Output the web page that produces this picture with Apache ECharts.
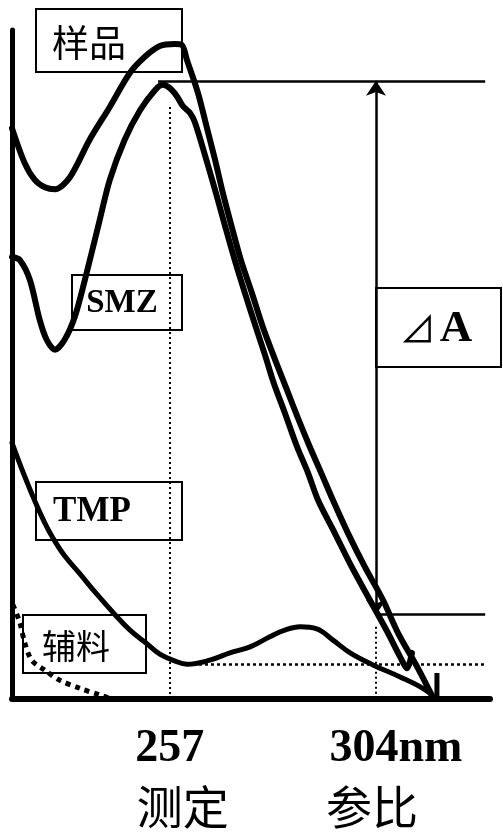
<!DOCTYPE html>
<html><head><meta charset="utf-8">
<script src="https://cdn.jsdelivr.net/npm/echarts@6/dist/echarts.min.js"></script>
<style>html,body{margin:0;padding:0;background:#fff}#c{width:503px;height:832px}</style>
</head><body><div id="c"></div>
<script>
// wavelength (nm) , relative absorbance
const sampleCurve = [[221.0,0.853],[223.9,0.801],[226.2,0.776],[228.5,0.765],[230.8,0.762],[234.2,0.780],[238.7,0.836],[243.3,0.885],[247.9,0.936],[251.3,0.960],[254.7,0.976],[258.1,0.979],[259.7,0.978],[260.9,0.955],[263.4,0.906],[265.4,0.855],[267.3,0.806],[269.1,0.756],[271.1,0.706],[273.2,0.656],[275.7,0.607],[278.2,0.556],[281.0,0.507],[283.7,0.462],[286.2,0.420],[288.9,0.377],[291.5,0.338],[294.2,0.297],[297.6,0.248],[301.5,0.197],[305.6,0.148],[309.0,0.099],[313.4,0.048],[317.0,0.002]];
const smzCurve = [[221.0,0.661],[222.8,0.656],[225.1,0.626],[227.3,0.567],[228.9,0.537],[230.8,0.522],[233.0,0.537],[235.3,0.571],[237.6,0.626],[241.0,0.716],[243.3,0.776],[246.7,0.836],[250.2,0.880],[253.6,0.910],[255.4,0.918],[257.0,0.913],[258.6,0.901],[260.0,0.886],[261.6,0.876],[262.7,0.862],[265.0,0.813],[267.3,0.761],[269.5,0.709],[271.8,0.656],[274.1,0.607],[276.6,0.556],[278.7,0.514],[280.7,0.472],[283.2,0.428],[286.0,0.377],[288.5,0.338],[290.8,0.297],[294.6,0.248],[298.5,0.197],[302.6,0.148],[306.7,0.099],[309.5,0.063],[311.1,0.046],[312.2,0.069]];
const tmpCurve = [[221.0,0.383],[223.7,0.336],[226.4,0.293],[228.5,0.263],[230.3,0.241],[233.0,0.214],[236.5,0.187],[240.3,0.157],[244.5,0.126],[247.9,0.103],[251.5,0.084],[254.7,0.067],[258.1,0.057],[260.9,0.052],[266.1,0.058],[270.7,0.069],[275.3,0.078],[279.8,0.093],[283.2,0.103],[286.7,0.108],[290.5,0.105],[294.2,0.088],[298.1,0.069],[303.3,0.051],[309.5,0.033],[314.7,0.016],[317.5,0.002]];
const excipientCurve = [[221.2,0.141],[222.8,0.114],[223.9,0.084],[225.5,0.058],[228.5,0.043],[231.9,0.028],[236.5,0.016],[241.0,0.006],[242.9,0.002]];
const endTick = [[317.9,0.0],[317.9,0.039]];

const measureNm = 257, referenceNm = 304;
const measureGuideTop = 0.885;
const referenceGuideTop = 0.108;
const deltaTop = 0.924, deltaBottom = 0.126;
const deltaTopStartNm = 254.3, deltaBottomStartNm = 304, guideEndNm = 328.9;
const baselineLevel = 0.052, baselineStartNm = 260.9;

const tickValues = [257, 304];
const tickNumbers = ['257', '304nm'];
const tickNotes = ['测定', '参比'];

const chart = echarts.init(document.getElementById('c'));
const blk = '#000';
const serif = '"Liberation Serif","DejaVu Serif",serif';
const cjk = '"Noto Sans CJK SC",sans-serif';

function box(x, y, w, h, text, font, cx, cy) {
  return [
    {type:'rect', shape:{x:x, y:y, width:w, height:h}, style:{fill:'none', stroke:blk, lineWidth:2}, z:5},
    {type:'text', x:cx, y:cy, style:{text:text, font:font, fill:blk, align:'center', verticalAlign:'middle'}, z:6}
  ];
}

const option = {
  backgroundColor:'#fff',
  animation:false,
  grid:{left:12, right:13, top:30, bottom:133, containLabel:false, outerBoundsMode:'none'},
  xAxis:{type:'value', min:221, max:330,
    axisLine:{show:true, onZero:false, lineStyle:{color:blk, width:6}},
    axisTick:{show:false}, splitLine:{show:false},
    axisLabel:{show:true, customValues:tickValues, margin:21, hideOverlap:false, showMinLabel:true, showMaxLabel:true,
      formatter:function(v){
        const i = tickValues.indexOf(Math.round(v));
        if (i < 0) return '';
        return (i===0?'{a|':'{c|') + tickNumbers[i] + '}\n' + (i===0?'{b|':'{d|') + tickNotes[i] + '}';
      },
      rich:{
        a:{fontSize:46, fontWeight:'bold', fontFamily:serif, color:blk, lineHeight:58},
        b:{fontSize:46, fontFamily:cjk, color:blk, lineHeight:58, padding:[0,0,0,26]},
        c:{fontSize:46, fontWeight:'bold', fontFamily:serif, color:blk, lineHeight:58, padding:[0,0,0,40]},
        d:{fontSize:46, fontFamily:cjk, color:blk, lineHeight:58, padding:[0,8,0,0]}
      }}
  },
  yAxis:{type:'value', min:0, max:1,
    axisLine:{show:true, onZero:false, lineStyle:{color:blk, width:5}},
    axisTick:{show:false}, axisLabel:{show:false}, splitLine:{show:false}},
  graphic:[].concat(
    box(36, 9, 146, 63, '样品', '37px ' + cjk, 89, 43),
    box(72, 275, 110, 55, 'SMZ', 'bold 33px ' + serif, 122, 303),
    box(36, 482, 146, 58, 'TMP', 'bold 35px ' + serif, 92, 512),
    box(23, 615, 123, 58, '辅料', '34px ' + cjk, 76, 646),
    [{type:'rect', shape:{x:376, y:288, width:125, height:79}, style:{fill:'#fff', stroke:blk, lineWidth:2}, z:5},
     {type:'text', x:436, y:329, z:6, style:{text:'{t|⊿}{a|A}', fill:blk, align:'center', verticalAlign:'middle',
       rich:{t:{font:'36px ' + cjk, fill:blk}, a:{font:'bold 45px ' + serif, fill:blk, padding:[0,0,0,4]}}}}]
  ),
  series:[
    {name:'样品', type:'line', data:sampleCurve, showSymbol:false, smooth:0.3, lineStyle:{color:blk, width:6, cap:'round', join:'round'}, z:3},
    {name:'SMZ', type:'line', data:smzCurve, showSymbol:false, smooth:0.3, lineStyle:{color:blk, width:6, cap:'round', join:'round'}, z:3},
    {name:'TMP', type:'line', data:tmpCurve, showSymbol:false, smooth:0.4, lineStyle:{color:blk, width:5, cap:'round', join:'round'}, z:3},
    {name:'辅料', type:'line', data:excipientCurve, showSymbol:false, smooth:0.3, lineStyle:{color:blk, width:5, type:[5,5]}, z:3},
    {name:'end', type:'line', data:endTick, showSymbol:false, lineStyle:{color:blk, width:5}, z:3},
    {name:'guides', type:'line', data:[], z:2,
      markLine:{silent:true, symbol:'none', animation:false, label:{show:false},
        data:[
          [{coord:[measureNm, measureGuideTop], lineStyle:{color:blk, width:2, type:[2,3]}}, {coord:[measureNm, 0]}],
          [{coord:[referenceNm, referenceGuideTop], lineStyle:{color:blk, width:2, type:[2,3]}}, {coord:[referenceNm, 0]}],
          [{coord:[baselineStartNm, baselineLevel], lineStyle:{color:blk, width:2.5, type:[3,3]}}, {coord:[guideEndNm, baselineLevel]}],
          [{coord:[deltaTopStartNm, deltaTop], lineStyle:{color:blk, width:2.5, type:'solid'}}, {coord:[guideEndNm, deltaTop]}],
          [{coord:[deltaBottomStartNm, deltaBottom], lineStyle:{color:blk, width:2.5, type:'solid'}}, {coord:[guideEndNm, deltaBottom]}]
        ]}},
    {name:'deltaA', type:'line', data:[], z:2,
      markLine:{silent:true, symbol:['arrow','arrow'], symbolSize:[15,15], animation:false, label:{show:false},
        lineStyle:{color:blk, width:2.5, type:'solid'},
        data:[[{coord:[referenceNm, deltaBottom]}, {coord:[referenceNm, deltaTop]}]]}}
  ]
};
chart.setOption(option);
</script></body></html>
